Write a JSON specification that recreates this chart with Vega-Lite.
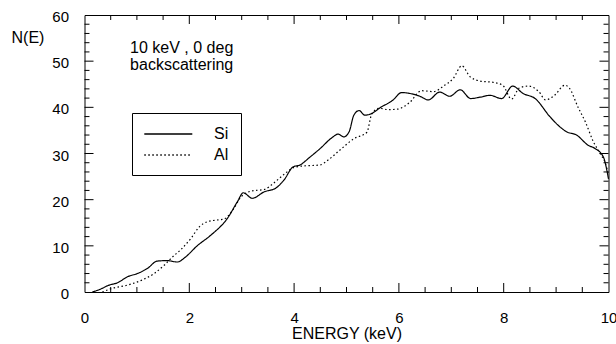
{
  "$schema": "https://vega.github.io/schema/vega-lite/v6.json",
  "width": 524,
  "height": 277,
  "autosize": {"type": "none"},
  "padding": {"left": 84.5, "top": 15, "right": 7.5, "bottom": 52},
  "background": "white",
  "config": {
    "font": "Liberation Sans",
    "view": {"stroke": "black", "strokeWidth": 1},
    "axis": {
      "domain": false,
      "grid": false,
      "ticks": false,
      "labelColor": "black",
      "titleColor": "black",
      "labelFont": "Liberation Sans",
      "labelFontSize": 15,
      "titleFont": "Liberation Sans",
      "titleFontSize": 16,
      "titleFontWeight": "normal",
      "labelFlush": false,
      "labelOverlap": false
    },
    "legend": {
      "orient": "none",
      "legendX": 47.5,
      "legendY": 98,
      "strokeColor": "black",
      "fillColor": "white",
      "padding": 12,
      "symbolType": "M-3,0H3",
      "symbolSize": 256,
      "symbolOffset": 15.3,
      "symbolStrokeColor": "black",
      "symbolStrokeWidth": 1.3,
      "labelFont": "Liberation Sans",
      "labelFontSize": 16,
      "labelColor": "black",
      "labelOffset": 36.7,
      "rowPadding": 4
    }
  },
  "datasets": {
    "curves": [
      {"material": "Si", "E": 0.15, "N": 0},
      {"material": "Si", "E": 0.3, "N": 0.6},
      {"material": "Si", "E": 0.47, "N": 1.5},
      {"material": "Si", "E": 0.63, "N": 2.0},
      {"material": "Si", "E": 0.82, "N": 3.3},
      {"material": "Si", "E": 1.01, "N": 4.0},
      {"material": "Si", "E": 1.2, "N": 5.1},
      {"material": "Si", "E": 1.39, "N": 6.7},
      {"material": "Si", "E": 1.58, "N": 6.8},
      {"material": "Si", "E": 1.77, "N": 6.5},
      {"material": "Si", "E": 1.93, "N": 7.6},
      {"material": "Si", "E": 2.15, "N": 10},
      {"material": "Si", "E": 2.41, "N": 12.3},
      {"material": "Si", "E": 2.73, "N": 16},
      {"material": "Si", "E": 2.92, "N": 19.6},
      {"material": "Si", "E": 3.03, "N": 21.5},
      {"material": "Si", "E": 3.2, "N": 20.3},
      {"material": "Si", "E": 3.43, "N": 21.7},
      {"material": "Si", "E": 3.65, "N": 22.5},
      {"material": "Si", "E": 3.81, "N": 24.3},
      {"material": "Si", "E": 3.98, "N": 27.1},
      {"material": "Si", "E": 4.11, "N": 27.5},
      {"material": "Si", "E": 4.3, "N": 29.2},
      {"material": "Si", "E": 4.49, "N": 31.0},
      {"material": "Si", "E": 4.72, "N": 33.4},
      {"material": "Si", "E": 4.84, "N": 34.2},
      {"material": "Si", "E": 4.95, "N": 33.6},
      {"material": "Si", "E": 5.05, "N": 34.7},
      {"material": "Si", "E": 5.14, "N": 38.3},
      {"material": "Si", "E": 5.24, "N": 39.3},
      {"material": "Si", "E": 5.35, "N": 38.3},
      {"material": "Si", "E": 5.47, "N": 38.6},
      {"material": "Si", "E": 5.64, "N": 39.9},
      {"material": "Si", "E": 5.89, "N": 41.6},
      {"material": "Si", "E": 6.05, "N": 43.2},
      {"material": "Si", "E": 6.21, "N": 43.0},
      {"material": "Si", "E": 6.4, "N": 42.4},
      {"material": "Si", "E": 6.56, "N": 41.6},
      {"material": "Si", "E": 6.78, "N": 43.3},
      {"material": "Si", "E": 6.97, "N": 42.4},
      {"material": "Si", "E": 7.17, "N": 43.8},
      {"material": "Si", "E": 7.37, "N": 41.9},
      {"material": "Si", "E": 7.55, "N": 42.2},
      {"material": "Si", "E": 7.74, "N": 42.6},
      {"material": "Si", "E": 7.96, "N": 41.9},
      {"material": "Si", "E": 8.17, "N": 44.6},
      {"material": "Si", "E": 8.37, "N": 43.0},
      {"material": "Si", "E": 8.6, "N": 41.9},
      {"material": "Si", "E": 8.88, "N": 38.0},
      {"material": "Si", "E": 9.05, "N": 36.0},
      {"material": "Si", "E": 9.2, "N": 34.7},
      {"material": "Si", "E": 9.39, "N": 34.0},
      {"material": "Si", "E": 9.61, "N": 31.8},
      {"material": "Si", "E": 9.74, "N": 31.1},
      {"material": "Si", "E": 9.9, "N": 29.3},
      {"material": "Si", "E": 10.0, "N": 24.5},
      {"material": "Al", "E": 0.34, "N": 0},
      {"material": "Al", "E": 0.53, "N": 0.8},
      {"material": "Al", "E": 0.82, "N": 1.5},
      {"material": "Al", "E": 1.1, "N": 2.6},
      {"material": "Al", "E": 1.33, "N": 4.0},
      {"material": "Al", "E": 1.52, "N": 5.8},
      {"material": "Al", "E": 1.68, "N": 7.6},
      {"material": "Al", "E": 1.84, "N": 9.2},
      {"material": "Al", "E": 2.03, "N": 11.6},
      {"material": "Al", "E": 2.19, "N": 14.1},
      {"material": "Al", "E": 2.34, "N": 15.2},
      {"material": "Al", "E": 2.53, "N": 15.6},
      {"material": "Al", "E": 2.66, "N": 15.8},
      {"material": "Al", "E": 2.85, "N": 18.1},
      {"material": "Al", "E": 2.98, "N": 20.5},
      {"material": "Al", "E": 3.2, "N": 21.9},
      {"material": "Al", "E": 3.43, "N": 22.2},
      {"material": "Al", "E": 3.6, "N": 23.5},
      {"material": "Al", "E": 3.81, "N": 25.5},
      {"material": "Al", "E": 4.0, "N": 27.0},
      {"material": "Al", "E": 4.18, "N": 27.3},
      {"material": "Al", "E": 4.49, "N": 27.5},
      {"material": "Al", "E": 4.65, "N": 28.6},
      {"material": "Al", "E": 4.88, "N": 30.8},
      {"material": "Al", "E": 5.14, "N": 33.2},
      {"material": "Al", "E": 5.39, "N": 34.6},
      {"material": "Al", "E": 5.48, "N": 38.5},
      {"material": "Al", "E": 5.62, "N": 39.8},
      {"material": "Al", "E": 5.8, "N": 39.5},
      {"material": "Al", "E": 5.97, "N": 39.6},
      {"material": "Al", "E": 6.2, "N": 41.0},
      {"material": "Al", "E": 6.43, "N": 43.6},
      {"material": "Al", "E": 6.66, "N": 43.4},
      {"material": "Al", "E": 6.85, "N": 44.6},
      {"material": "Al", "E": 7.04, "N": 46.3},
      {"material": "Al", "E": 7.2, "N": 49.0},
      {"material": "Al", "E": 7.36, "N": 46.6},
      {"material": "Al", "E": 7.55, "N": 45.7},
      {"material": "Al", "E": 7.8, "N": 45.4},
      {"material": "Al", "E": 7.98, "N": 44.8},
      {"material": "Al", "E": 8.15, "N": 41.8},
      {"material": "Al", "E": 8.3, "N": 44.2},
      {"material": "Al", "E": 8.47, "N": 44.6},
      {"material": "Al", "E": 8.67, "N": 43.4},
      {"material": "Al", "E": 8.8, "N": 41.6},
      {"material": "Al", "E": 8.96, "N": 42.5},
      {"material": "Al", "E": 9.17, "N": 44.8},
      {"material": "Al", "E": 9.25, "N": 44.2},
      {"material": "Al", "E": 9.42, "N": 40.0},
      {"material": "Al", "E": 9.56, "N": 36.8},
      {"material": "Al", "E": 9.71, "N": 32.6},
      {"material": "Al", "E": 9.84, "N": 30.0},
      {"material": "Al", "E": 9.93, "N": 28.2},
      {"material": "Al", "E": 10.0, "N": 25.5}
    ],
    "notes": [
      {"E": 0.87, "N": 51.8, "label": "10 keV , 0 deg"},
      {"E": 0.87, "N": 48.1, "label": "backscattering"}
    ],
    "xticks": [
      {"E": 0.5, "kind": "minor"}, {"E": 1, "kind": "minor"}, {"E": 1.5, "kind": "minor"},
      {"E": 2, "kind": "major"}, {"E": 2.5, "kind": "minor"}, {"E": 3, "kind": "minor"},
      {"E": 3.5, "kind": "minor"}, {"E": 4, "kind": "major"}, {"E": 4.5, "kind": "minor"},
      {"E": 5, "kind": "minor"}, {"E": 5.5, "kind": "minor"}, {"E": 6, "kind": "major"},
      {"E": 6.5, "kind": "minor"}, {"E": 7, "kind": "minor"}, {"E": 7.5, "kind": "minor"},
      {"E": 8, "kind": "major"}, {"E": 8.5, "kind": "minor"}, {"E": 9, "kind": "minor"},
      {"E": 9.5, "kind": "minor"}
    ],
    "yticks": [
      {"N": 2, "kind": "minor"}, {"N": 4, "kind": "minor"}, {"N": 6, "kind": "minor"}, {"N": 8, "kind": "minor"},
      {"N": 10, "kind": "major"}, {"N": 12, "kind": "minor"}, {"N": 14, "kind": "minor"}, {"N": 16, "kind": "minor"},
      {"N": 18, "kind": "minor"}, {"N": 20, "kind": "major"}, {"N": 22, "kind": "minor"}, {"N": 24, "kind": "minor"},
      {"N": 26, "kind": "minor"}, {"N": 28, "kind": "minor"}, {"N": 30, "kind": "major"}, {"N": 32, "kind": "minor"},
      {"N": 34, "kind": "minor"}, {"N": 36, "kind": "minor"}, {"N": 38, "kind": "minor"}, {"N": 40, "kind": "major"},
      {"N": 42, "kind": "minor"}, {"N": 44, "kind": "minor"}, {"N": 46, "kind": "minor"}, {"N": 48, "kind": "minor"},
      {"N": 50, "kind": "major"}, {"N": 52, "kind": "minor"}, {"N": 54, "kind": "minor"}, {"N": 56, "kind": "minor"},
      {"N": 58, "kind": "minor"}
    ]
  },
  "layer": [
    {
      "data": {"name": "curves"},
      "mark": {"type": "line", "interpolate": "monotone", "color": "black", "strokeWidth": 1.2},
      "encoding": {
        "x": {
          "field": "E",
          "type": "quantitative",
          "scale": {"domain": [0, 10], "nice": false, "zero": false},
          "axis": {
            "orient": "bottom",
            "values": [0, 2, 4, 6, 8, 10],
            "format": "d",
            "labelPadding": 18,
            "title": "ENERGY (keV)",
            "titleBaseline": "alphabetic",
            "titleY": 46
          }
        },
        "y": {
          "field": "N",
          "type": "quantitative",
          "scale": {"domain": [0, 60], "nice": false, "zero": false},
          "axis": {
            "orient": "left",
            "values": [0, 10, 20, 30, 40, 50, 60],
            "format": "d",
            "labelPadding": 16,
            "labelBaseline": "middle",
            "labelOffset": 1.5,
            "title": "N(E)",
            "titleAngle": 0,
            "titleAlign": "center",
            "titleBaseline": "alphabetic",
            "titleX": -57,
            "titleY": 27.5
          }
        },
        "strokeDash": {
          "field": "material",
          "type": "nominal",
          "scale": {"domain": ["Si", "Al"], "range": [[1, 0], [1.5, 2.5]]},
          "legend": {"title": null}
        }
      }
    },
    {
      "data": {"name": "notes"},
      "mark": {"type": "text", "align": "left", "baseline": "alphabetic", "fontSize": 16, "font": "Liberation Sans", "color": "black"},
      "encoding": {
        "x": {"field": "E", "type": "quantitative", "axis": null},
        "y": {"field": "N", "type": "quantitative", "axis": null},
        "text": {"field": "label"}
      }
    },
    {
      "data": {"name": "xticks"},
      "transform": [{"filter": "datum.kind === 'major'"}],
      "mark": {"type": "rule", "color": "black", "strokeWidth": 1},
      "encoding": {
        "x": {"field": "E", "type": "quantitative", "axis": null},
        "y": {"datum": 0, "axis": null},
        "y2": {"datum": 1.95}
      }
    },
    {
      "data": {"name": "xticks"},
      "transform": [{"filter": "datum.kind === 'minor'"}],
      "mark": {"type": "rule", "color": "black", "strokeWidth": 1},
      "encoding": {
        "x": {"field": "E", "type": "quantitative", "axis": null},
        "y": {"datum": 0, "axis": null},
        "y2": {"datum": 1.08}
      }
    },
    {
      "data": {"name": "xticks"},
      "transform": [{"filter": "datum.kind === 'major'"}],
      "mark": {"type": "rule", "color": "black", "strokeWidth": 1},
      "encoding": {
        "x": {"field": "E", "type": "quantitative", "axis": null},
        "y": {"datum": 60, "axis": null},
        "y2": {"datum": 58.05}
      }
    },
    {
      "data": {"name": "xticks"},
      "transform": [{"filter": "datum.kind === 'minor'"}],
      "mark": {"type": "rule", "color": "black", "strokeWidth": 1},
      "encoding": {
        "x": {"field": "E", "type": "quantitative", "axis": null},
        "y": {"datum": 60, "axis": null},
        "y2": {"datum": 58.92}
      }
    },
    {
      "data": {"name": "yticks"},
      "transform": [{"filter": "datum.kind === 'major'"}],
      "mark": {"type": "rule", "color": "black", "strokeWidth": 1},
      "encoding": {
        "y": {"field": "N", "type": "quantitative", "axis": null},
        "x": {"datum": 0, "axis": null},
        "x2": {"datum": 0.172}
      }
    },
    {
      "data": {"name": "yticks"},
      "transform": [{"filter": "datum.kind === 'minor'"}],
      "mark": {"type": "rule", "color": "black", "strokeWidth": 1},
      "encoding": {
        "y": {"field": "N", "type": "quantitative", "axis": null},
        "x": {"datum": 0, "axis": null},
        "x2": {"datum": 0.095}
      }
    },
    {
      "data": {"name": "yticks"},
      "transform": [{"filter": "datum.kind === 'major'"}],
      "mark": {"type": "rule", "color": "black", "strokeWidth": 1},
      "encoding": {
        "y": {"field": "N", "type": "quantitative", "axis": null},
        "x": {"datum": 10, "axis": null},
        "x2": {"datum": 9.828}
      }
    },
    {
      "data": {"name": "yticks"},
      "transform": [{"filter": "datum.kind === 'minor'"}],
      "mark": {"type": "rule", "color": "black", "strokeWidth": 1},
      "encoding": {
        "y": {"field": "N", "type": "quantitative", "axis": null},
        "x": {"datum": 10, "axis": null},
        "x2": {"datum": 9.905}
      }
    }
  ],
  "resolve": {"axis": {"x": "independent", "y": "independent"}}
}
